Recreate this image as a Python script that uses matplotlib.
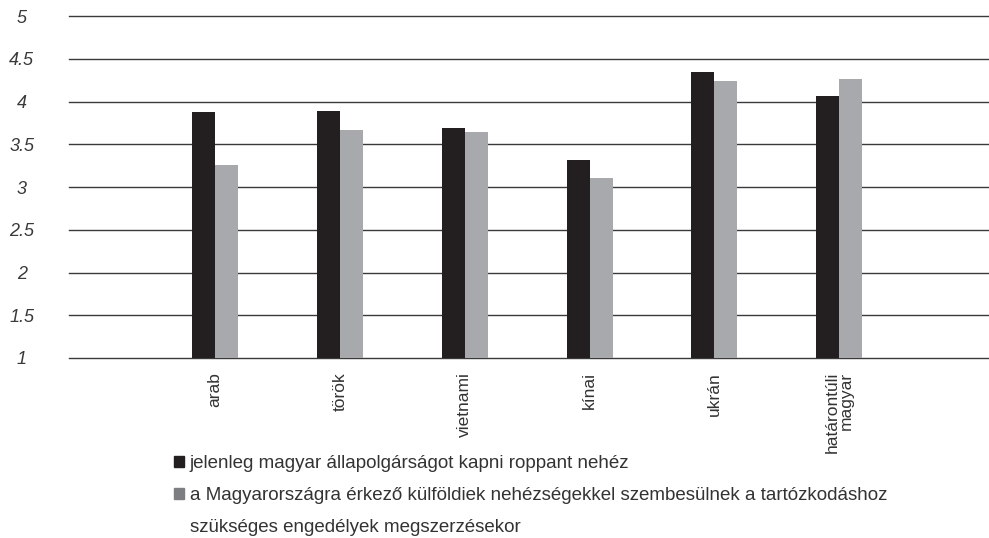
import numpy as np
import matplotlib.pyplot as plt
from matplotlib.patches import Patch

# Data
categories = ['arab', 'török', 'vietnami', 'kínai', 'ukrán', 'határontúli\nmagyar']
series_a = [3.88, 3.89, 3.69, 3.32, 4.35, 4.06]   # black bars
series_b = [3.26, 3.67, 3.65, 3.11, 4.24, 4.27]   # grey bars
y_ticks = [1, 1.5, 2, 2.5, 3, 3.5, 4, 4.5, 5]
y_tick_labels = ['1', '1.5', '2', '2.5', '3', '3.5', '4', '4.5', '5']
label_a = 'jelenleg magyar állapolgárságot kapni roppant nehéz'
label_b = 'a Magyarországra érkező külföldiek nehézségekkel szembesülnek a tartózkodáshoz'
label_b2 = 'szükséges engedélyek megszerzésekor'

black = '#231f20'
grey = '#a7a9ac'

plt.rcParams['font.family'] = ['Liberation Sans', 'DejaVu Sans']

fig = plt.figure(figsize=(9.89, 5.38), dpi=100)
ax = fig.add_axes([0.0698, 0.3346, 0.9302, 0.6354])

x = np.arange(len(categories))
w = 0.184
ax.bar(x - w / 2, series_a, width=w, color=black, zorder=3)
ax.bar(x + w / 2, series_b, width=w, color=grey, zorder=3)

ax.set_ylim(1, 5)
ax.set_xlim(-1.17, 6.2)
ax.set_yticks(y_ticks)
ax.set_yticklabels(y_tick_labels, fontsize=13, fontstyle='italic', color='#3a3a3a', ha='center')
ax.tick_params(axis='y', length=0, pad=34)
ax.set_xticks(x)
ax.set_xticklabels(categories, rotation=90, fontsize=12.5, color='#333333',
                   va='top', ha='center', multialignment='right', linespacing=0.95)
ax.tick_params(axis='x', length=0, pad=10)

for v in y_ticks:
    ax.axhline(v, color='#3a3a3a', linewidth=1.0, zorder=1, clip_on=False)
for s in ax.spines.values():
    s.set_visible(False)

handles = [Patch(color=black), Patch(color='#7d7e81'), Patch(color='none')]
leg = fig.legend(handles, [label_a, label_b, label_b2], loc='upper left',
                 bbox_to_anchor=(174 / 989, 1 - 455 / 538), frameon=False,
                 fontsize=13.5, handlelength=0.55, handleheight=0.55,
                 handletextpad=0.3, labelspacing=0.8, borderpad=0, borderaxespad=0)
for t in leg.get_texts():
    t.set_color('#333333')

plt.savefig('out.png')
